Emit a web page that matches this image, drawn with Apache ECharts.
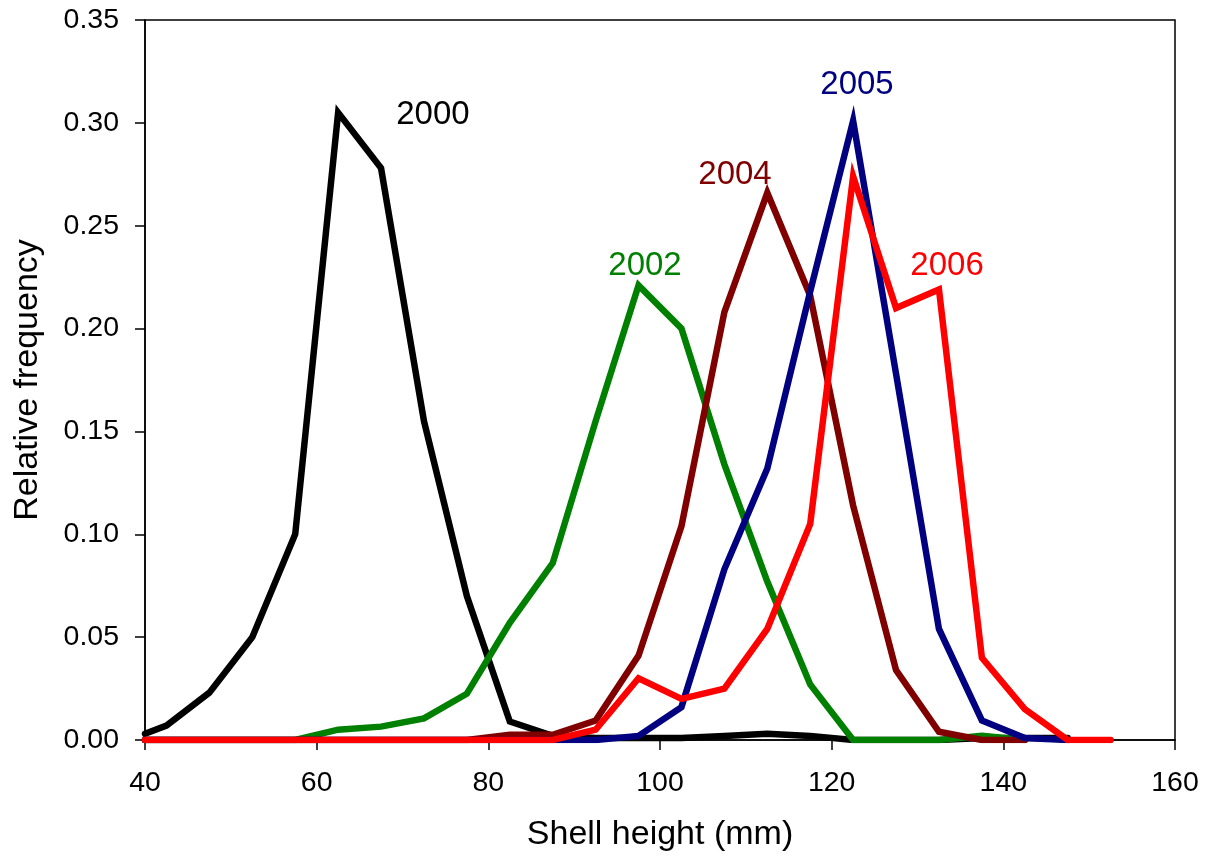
<!DOCTYPE html>
<html>
<head>
<meta charset="utf-8">
<script src="https://cdn.jsdelivr.net/npm/echarts@6/dist/echarts.min.js"></script>
<style>
html,body{margin:0;padding:0;background:#fff;}
#chart{width:1208px;height:859px;}
</style>
</head>
<body>
<div id="chart"></div>
<script>
// Shell height bin midpoints (mm)
var shellHeight = [40, 42.5, 47.5, 52.5, 57.5, 62.5, 67.5, 72.5, 77.5, 82.5, 87.5, 92.5, 97.5, 102.5, 107.5, 112.5, 117.5, 122.5, 127.5, 132.5, 137.5, 142.5, 147.5, 152.5];

var freq2000 = [0.003, 0.007, 0.023, 0.050, 0.100, 0.305, 0.278, 0.155, 0.070, 0.009, 0.002, 0.001, 0.001, 0.001, 0.002, 0.003, 0.002, 0, 0, 0, 0.001, 0.001, 0.001, null];
var freq2002 = [0, 0, 0, 0, 0, 0.005, 0.0065, 0.0105, 0.0225, 0.057, 0.086, 0.155, 0.221, 0.200, 0.134, 0.077, 0.027, 0, 0, 0, 0.002, 0, null, null];
var freq2004 = [0, 0, 0, 0, 0, 0, 0, 0, 0, 0.0025, 0.0025, 0.0095, 0.041, 0.104, 0.208, 0.266, 0.216, 0.114, 0.034, 0.004, 0, 0, null, null];
var freq2005 = [0, 0, 0, 0, 0, 0, 0, 0, 0, 0, 0, 0, 0.002, 0.016, 0.083, 0.132, 0.218, 0.301, 0.178, 0.054, 0.0095, 0.001, 0, null];
var freq2006 = [0, 0, 0, 0, 0, 0, 0, 0, 0, 0, 0, 0.005, 0.030, 0.020, 0.025, 0.054, 0.105, 0.274, 0.210, 0.219, 0.040, 0.015, 0, 0];

var yearNames = ['2000', '2002', '2004', '2005', '2006'];
var yearColors = ['#000000', '#008000', '#800000', '#000080', '#ff0000'];
// label anchor positions in data units (x mm, y freq)
var labelX = [73.55, 98.25, 108.74, 122.95, 133.44];
var labelY = [0.3038, 0.2304, 0.2747, 0.3184, 0.2304];

var xTicks = {min: 40, max: 160, interval: 20};
var yTicks = {min: 0, max: 0.35, interval: 0.05};

var allFreq = [freq2000, freq2002, freq2004, freq2005, freq2006];
var FONT = '"Liberation Sans", Arial, sans-serif';

var series = allFreq.map(function (arr, i) {
  return {
    name: yearNames[i],
    type: 'line',
    data: shellHeight.map(function (x, j) { return arr[j] === null ? null : [x, arr[j]]; }).filter(function (d) { return d !== null; }),
    showSymbol: false,
    symbol: 'none',
    lineStyle: {color: yearColors[i], width: 6.5, join: 'miter', cap: 'round'},
    itemStyle: {color: yearColors[i]},
    z: 2 + i,
    animation: false
  };
});

series.push({
  type: 'scatter',
  symbolSize: 0,
  itemStyle: {opacity: 1},
  data: yearNames.map(function (n, i) {
    return {
      value: [labelX[i], labelY[i]],
      itemStyle: {opacity: 1},
      label: {show: true, position: 'inside', formatter: n, color: yearColors[i], opacity: 1, fontSize: 33, fontFamily: FONT}
    };
  }),
  z: 10,
  animation: false,
  silent: true
});

var chart = echarts.init(document.getElementById('chart'), null, {renderer: 'canvas'});
chart.setOption({
  backgroundColor: '#ffffff',
  animation: false,
  grid: {left: 145, right: 33, top: 20, bottom: 119, show: true, borderColor: '#000', borderWidth: 1.5, containLabel: false},
  xAxis: {
    type: 'value',
    min: xTicks.min, max: xTicks.max, interval: xTicks.interval,
    name: 'Shell height (mm)',
    nameLocation: 'middle',
    nameGap: 78,
    nameTextStyle: {fontSize: 34, color: '#000', fontFamily: FONT},
    axisLine: {show: true, lineStyle: {color: '#000', width: 1.5}},
    axisTick: {show: true, inside: false, length: 10, lineStyle: {color: '#000', width: 1.5}},
    axisLabel: {fontSize: 28.5, color: '#000', margin: 29, fontFamily: FONT},
    splitLine: {show: false}
  },
  yAxis: {
    type: 'value',
    min: yTicks.min, max: yTicks.max, interval: yTicks.interval,
    name: 'Relative frequency',
    nameLocation: 'middle',
    nameGap: 100,
    nameTextStyle: {fontSize: 34, color: '#000', fontFamily: FONT},
    axisLine: {show: true, lineStyle: {color: '#000', width: 1.5}},
    axisTick: {show: true, inside: false, length: 10, lineStyle: {color: '#000', width: 1.5}},
    axisLabel: {fontSize: 28.5, color: '#000', margin: 26, fontFamily: FONT,
      formatter: function (v) { return v.toFixed(2); }},
    splitLine: {show: false}
  },
  series: series
});
</script>
</body>
</html>
